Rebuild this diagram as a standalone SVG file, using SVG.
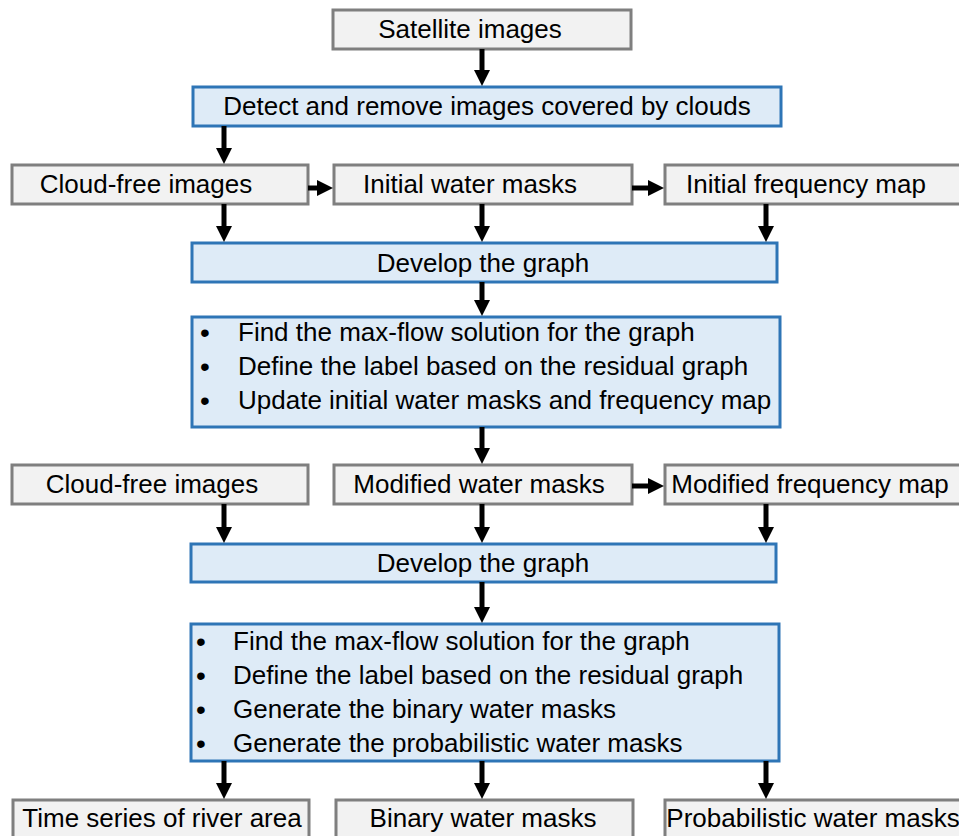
<svg xmlns="http://www.w3.org/2000/svg" width="959" height="836" viewBox="0 0 959 836">
<style>
.g{fill:#f2f2f2;stroke:#7f7f7f;stroke-width:3}
.b{fill:#deebf7;stroke:#2e75b6;stroke-width:3}
text{font-family:"Liberation Sans",Arial,sans-serif;font-size:26px;fill:#000}
.m{text-anchor:middle}
.dot{text-anchor:middle;font-size:28px}
.c line{stroke:#000;stroke-width:5}
</style>
<defs>
<marker id="ah" viewBox="0 0 16 16" refX="6" refY="8" markerWidth="16" markerHeight="16" markerUnits="userSpaceOnUse" orient="auto">
<path d="M0,0 L16,8 L0,16 z" fill="#000"/>
</marker>
</defs>
<g id="n1"><rect class="g" x="333" y="10" width="298" height="39"/><text class="m" x="470" y="38">Satellite images</text></g>
<g id="n2"><rect class="b" x="193" y="87" width="588" height="39"/><text class="m" x="487" y="115">Detect and remove images covered by clouds</text></g>
<g id="n3"><rect class="g" x="12" y="165" width="296" height="39"/><text class="m" x="146" y="193">Cloud-free images</text></g>
<g id="n4"><rect class="g" x="334" y="165" width="298" height="39"/><text class="m" x="470" y="193">Initial water masks</text></g>
<g id="n5"><rect class="g" x="665" y="165" width="300" height="39"/><text class="m" x="806" y="193">Initial frequency map</text></g>
<g id="n6"><rect class="b" x="192" y="243" width="585" height="39"/><text class="m" x="483" y="272">Develop the graph</text></g>
<g id="n7"><rect class="b" x="192" y="317" width="588" height="110"/>
<text class="dot" x="205" y="342">•</text><text x="238" y="341">Find the max-flow solution for the graph</text>
<text class="dot" x="205" y="376">•</text><text x="238" y="375">Define the label based on the residual graph</text>
<text class="dot" x="205" y="410">•</text><text x="238" y="409">Update initial water masks and frequency map</text></g>
<g id="n8"><rect class="g" x="12" y="465" width="296" height="39"/><text class="m" x="152" y="493">Cloud-free images</text></g>
<g id="n9"><rect class="g" x="334" y="465" width="298" height="39"/><text class="m" x="479" y="493">Modified water masks</text></g>
<g id="n10"><rect class="g" x="665" y="465" width="300" height="39"/><text class="m" x="810" y="493">Modified frequency map</text></g>
<g id="n11"><rect class="b" x="191" y="544" width="585" height="38"/><text class="m" x="483" y="572">Develop the graph</text></g>
<g id="n12"><rect class="b" x="191" y="624" width="588" height="137"/>
<text class="dot" x="201" y="651">•</text><text x="233" y="650">Find the max-flow solution for the graph</text>
<text class="dot" x="201" y="685">•</text><text x="233" y="684">Define the label based on the residual graph</text>
<text class="dot" x="201" y="719">•</text><text x="233" y="718">Generate the binary water masks</text>
<text class="dot" x="201" y="753">•</text><text x="233" y="752">Generate the probabilistic water masks</text></g>
<g id="n13"><rect class="g" x="13" y="800" width="296" height="50"/><text class="m" x="162" y="827">Time series of river area</text></g>
<g id="n14"><rect class="g" x="336" y="800" width="297" height="50"/><text class="m" x="483" y="827">Binary water masks</text></g>
<g id="n15"><rect class="g" x="665" y="800" width="300" height="50"/><text class="m" x="813" y="827">Probabilistic water masks</text></g>
<g id="connectors" class="c">
<line x1="482" y1="49" x2="482" y2="76" marker-end="url(#ah)"/>
<line x1="224" y1="126" x2="224" y2="154" marker-end="url(#ah)"/>
<line x1="224" y1="204" x2="224" y2="232" marker-end="url(#ah)"/>
<line x1="482" y1="204" x2="482" y2="232" marker-end="url(#ah)"/>
<line x1="766" y1="204" x2="766" y2="232" marker-end="url(#ah)"/>
<line x1="308" y1="188" x2="323" y2="188" marker-end="url(#ah)"/>
<line x1="632" y1="188" x2="654" y2="188" marker-end="url(#ah)"/>
<line x1="482" y1="282" x2="482" y2="306" marker-end="url(#ah)"/>
<line x1="482" y1="427" x2="482" y2="454" marker-end="url(#ah)"/>
<line x1="632" y1="486" x2="654" y2="486" marker-end="url(#ah)"/>
<line x1="224" y1="504" x2="224" y2="533" marker-end="url(#ah)"/>
<line x1="482" y1="504" x2="482" y2="533" marker-end="url(#ah)"/>
<line x1="766" y1="504" x2="766" y2="533" marker-end="url(#ah)"/>
<line x1="482" y1="582" x2="482" y2="613" marker-end="url(#ah)"/>
<line x1="224" y1="761" x2="224" y2="789" marker-end="url(#ah)"/>
<line x1="482" y1="761" x2="482" y2="789" marker-end="url(#ah)"/>
<line x1="766" y1="761" x2="766" y2="789" marker-end="url(#ah)"/>
</g>
</svg>
